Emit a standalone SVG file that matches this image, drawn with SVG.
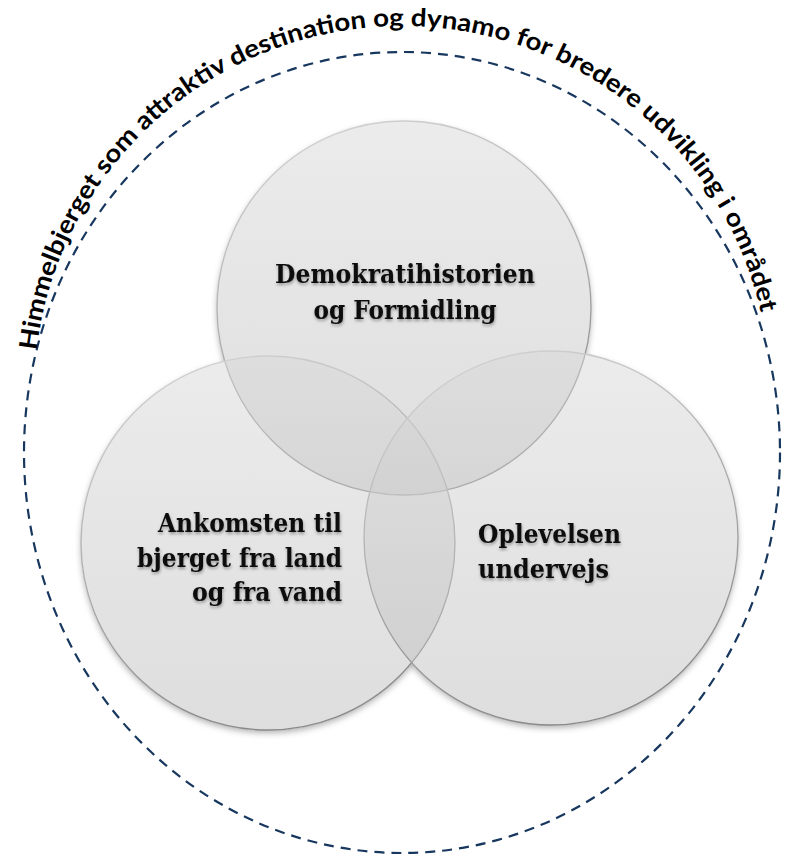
<svg xmlns="http://www.w3.org/2000/svg" width="794" height="856" viewBox="0 0 794 856">
  <style>
    .lbl { font-family: "DejaVu Serif", "Liberation Serif", serif; font-weight: bold; font-size: 26px; fill: #111111; }
    .shadowed { filter: url(#txtShadow); }
    .circle { fill: url(#circFill); fill-opacity: 0.5; stroke: url(#edge); stroke-width: 1.3; }
    .arcText { font-family: Lato, "Liberation Sans", sans-serif; font-weight: bold; font-size: 25px; fill: #000000; }
  </style>
  <defs>
    <linearGradient id="circFill" x1="0" y1="0" x2="0" y2="1">
      <stop offset="0" stop-color="#d8d8d8"/>
      <stop offset="1" stop-color="#bdbdbd"/>
    </linearGradient>
    <linearGradient id="edge" x1="0" y1="0" x2="0.3" y2="1">
      <stop offset="0" stop-color="#d8d8d8"/>
      <stop offset="1" stop-color="#8a8a8a"/>
    </linearGradient>
    <filter id="baseShadow" x="-20%" y="-20%" width="140%" height="140%">
      <feDropShadow dx="0" dy="3" stdDeviation="3" flood-color="#000000" flood-opacity="0.3"/>
    </filter>
    <filter id="txtShadow" x="-10%" y="-20%" width="120%" height="140%">
      <feDropShadow dx="0.5" dy="2" stdDeviation="1.6" flood-color="#000000" flood-opacity="0.35"/>
    </filter>
    <path id="arcPath" d="M 36.6 350.4 A 368 368 0 0 1 762.2 318.7"/>
  </defs>

  <rect width="794" height="856" fill="#ffffff"/>

  <g id="boundary">
    <ellipse cx="402" cy="452.5" rx="378" ry="400.5" fill="none" stroke="#17375e" stroke-width="2.2" stroke-dasharray="10 7"/>
    <text class="arcText"><textPath href="#arcPath" textLength="1030" lengthAdjust="spacingAndGlyphs">Himmelbjerget som attraktiv destination og dynamo for bredere udvikling i området</textPath></text>
  </g>

  <g id="circle-base" filter="url(#baseShadow)">
    <circle cx="404" cy="308" r="187" fill="#ffffff"/>
    <circle cx="268" cy="543" r="187" fill="#ffffff"/>
    <circle cx="551" cy="538" r="187" fill="#ffffff"/>
  </g>

  <g id="node-top">
    <circle class="circle" cx="404" cy="308" r="187"/>
    <g class="shadowed">
      <text class="lbl" x="405" y="283" text-anchor="middle" textLength="260" lengthAdjust="spacingAndGlyphs">Demokratihistorien</text>
      <text class="lbl" x="405" y="319" text-anchor="middle" textLength="183" lengthAdjust="spacingAndGlyphs">og Formidling</text>
    </g>
  </g>

  <g id="node-left">
    <circle class="circle" cx="268" cy="543" r="187"/>
    <g class="shadowed">
      <text class="lbl" x="342" y="532" text-anchor="end" textLength="184" lengthAdjust="spacingAndGlyphs">Ankomsten til</text>
      <text class="lbl" x="342" y="567" text-anchor="end" textLength="205" lengthAdjust="spacingAndGlyphs">bjerget fra land</text>
      <text class="lbl" x="342" y="601" text-anchor="end" textLength="150" lengthAdjust="spacingAndGlyphs">og fra vand</text>
    </g>
  </g>

  <g id="node-right">
    <circle class="circle" cx="551" cy="538" r="187"/>
    <g class="shadowed">
      <text class="lbl" x="478" y="543" textLength="143" lengthAdjust="spacingAndGlyphs">Oplevelsen</text>
      <text class="lbl" x="478" y="578" textLength="131" lengthAdjust="spacingAndGlyphs">undervejs</text>
    </g>
  </g>
</svg>
